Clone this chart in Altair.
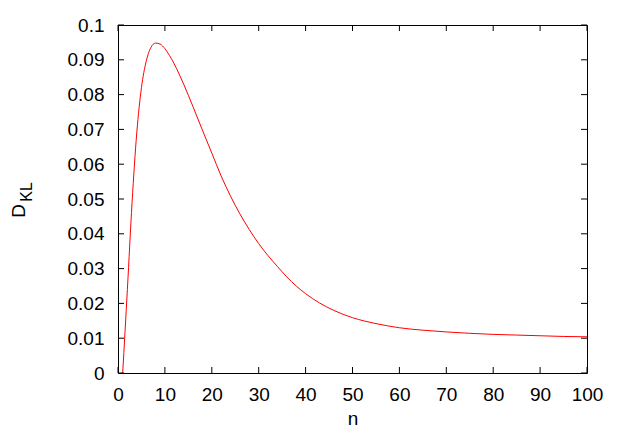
import altair as alt
import pandas as pd

n_vals = [1, 2, 3, 4, 5, 6, 7, 8, 9, 10, 11, 12, 13, 14, 15, 16, 18, 20, 22, 24,
          26, 28, 30, 32, 34, 36, 38, 40, 43, 46, 50, 55, 60, 65, 70, 75, 80, 85,
          90, 95, 100]
dkl_vals = [0.0, 0.024, 0.049, 0.069, 0.082, 0.0895, 0.0935, 0.0948, 0.0945, 0.0932,
            0.0912, 0.0888, 0.086, 0.083, 0.0798, 0.0765, 0.0698, 0.0632, 0.0566, 0.0508,
            0.0457, 0.0412, 0.0372, 0.0337, 0.0306, 0.0276, 0.0250, 0.0228, 0.0201, 0.0180,
            0.0159, 0.0142, 0.0130, 0.0123, 0.0118, 0.0114, 0.0111, 0.0109,
            0.0107, 0.0105, 0.0104]

x_ticks = [0, 10, 20, 30, 40, 50, 60, 70, 80, 90, 100]
y_ticks = [0, 0.01, 0.02, 0.03, 0.04, 0.05, 0.06, 0.07, 0.08, 0.09, 0.1]

W, H = 469, 348
FONT = "Liberation Sans"

df = pd.DataFrame({"n": n_vals, "D": dkl_vals})
xt = pd.DataFrame({"v": x_ticks})
yt = pd.DataFrame({"v": y_ticks})

xs = alt.Scale(domain=[0, 100], nice=False, zero=False)
ys = alt.Scale(domain=[0, 0.1], nice=False, zero=False)

x_axis = alt.Axis(
    values=x_ticks, ticks=False, domain=False, grid=False, title="n",
    labelFont=FONT, labelFontSize=19, labelColor="black", labelPadding=12,
    labelOverlap=False,
    titleFont=FONT, titleFontSize=19, titleFontWeight="normal", titleColor="black",
    titlePadding=5, labelFlush=False)
y_axis = alt.Axis(
    values=y_ticks, format="~g", ticks=False, domain=False, grid=False, title=None,
    labelFont=FONT, labelFontSize=19, labelColor="black", labelPadding=14,
    labelOverlap=False, labelFlush=False)

line = alt.Chart(df).mark_line(color="#ff0000", strokeWidth=1, clip=True,
                               interpolate="monotone").encode(
    x=alt.X("n:Q", scale=xs, axis=x_axis, title="n"),
    y=alt.Y("D:Q", scale=ys, axis=y_axis, title=None),
)

tick_x_bottom = alt.Chart(xt).mark_rule(color="black", strokeWidth=1).encode(
    x=alt.X("v:Q", scale=xs, axis=x_axis, title="n"), y=alt.value(H), y2=alt.value(H - 6))
tick_x_top = alt.Chart(xt).mark_rule(color="black", strokeWidth=1).encode(
    x=alt.X("v:Q", scale=xs, axis=x_axis, title="n"), y=alt.value(0), y2=alt.value(6))
tick_y_left = alt.Chart(yt).mark_rule(color="black", strokeWidth=1).encode(
    y=alt.Y("v:Q", scale=ys, axis=y_axis, title=None), x=alt.value(0), x2=alt.value(6))
tick_y_right = alt.Chart(yt).mark_rule(color="black", strokeWidth=1).encode(
    y=alt.Y("v:Q", scale=ys, axis=y_axis, title=None), x=alt.value(W), x2=alt.value(W - 6))

title_main = alt.Chart(pd.DataFrame({"t": ["D"]})).mark_text(
    font=FONT, fontSize=19, angle=270, align="center", baseline="alphabetic", color="black"
).encode(text="t:N", x=alt.value(-93), y=alt.value(186))
title_sub = alt.Chart(pd.DataFrame({"t": ["KL"]})).mark_text(
    font=FONT, fontSize=16, angle=270, align="center", baseline="alphabetic", color="black"
).encode(text="t:N", x=alt.value(-86), y=alt.value(167))

chart = alt.layer(
    line, tick_x_bottom, tick_x_top, tick_y_left, tick_y_right, title_main, title_sub
).properties(
    width=W, height=H,
    autosize=alt.AutoSizeParams(type="none"),
    padding={"left": 110, "top": 17, "right": 28, "bottom": 55},
    background="white",
).configure_view(stroke="black", strokeWidth=1)

chart.save("out.html", embed_options={"renderer": "svg", "actions": False})
